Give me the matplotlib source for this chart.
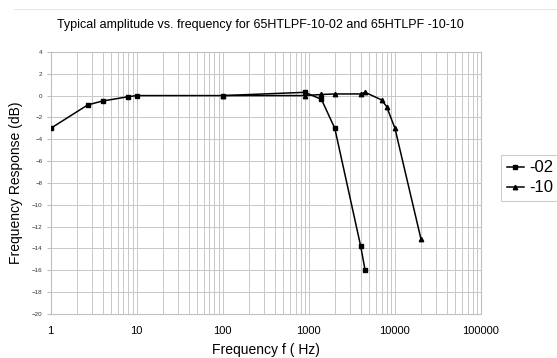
import matplotlib
matplotlib.use("Agg")
import matplotlib.pyplot as plt
from matplotlib.ticker import LogLocator, FixedLocator, FuncFormatter

freq_02 = [1, 2.7, 4, 8, 10, 100, 900, 1400, 2000, 4000, 4500]
resp_02 = [-3.0, -0.85, -0.5, -0.1, 0.0, 0.0, 0.3, -0.35, -3.0, -13.8, -16.0]

freq_10 = [100, 900, 1400, 2000, 4000, 4500, 7000, 8000, 10000, 20000]
resp_10 = [0.0, 0.0, 0.1, 0.15, 0.15, 0.3, -0.4, -1.0, -3.0, -13.1]

x_ticks = [1, 10, 100, 1000, 10000, 100000]
y_ticks = list(range(-20, 5, 2))

plt.rcParams['font.family'] = ['Liberation Sans', 'DejaVu Sans']

fig = plt.figure(figsize=(5.57, 3.58), dpi=100)
ax = fig.add_axes([0.091, 0.123, 0.7726, 0.732])

ax.plot(freq_10, resp_10, color='black', lw=1.1, marker='^', ms=3.2, label='-10', zorder=3)
ax.plot(freq_02, resp_02, color='black', lw=1.1, marker='s', ms=3.5, label='-02', zorder=4)

ax.set_xscale('log')
ax.set_xlim(1, 100000)
ax.set_ylim(-20, 4)
ax.xaxis.set_major_locator(FixedLocator(x_ticks))
ax.xaxis.set_minor_locator(LogLocator(base=10, subs=range(2, 10)))
ax.xaxis.set_major_formatter(FuncFormatter(lambda v, p: f"{int(round(v))}"))
ax.xaxis.set_minor_formatter(FuncFormatter(lambda v, p: ""))
ax.yaxis.set_major_locator(FixedLocator(y_ticks))

ax.grid(True, which='major', color='#c8c8c8', lw=0.7)
ax.grid(True, which='minor', axis='x', color='#c8c8c8', lw=0.7)
ax.set_axisbelow(True)
for s in ax.spines.values():
    s.set_color('#c0c0c0')
    s.set_linewidth(0.8)

ax.tick_params(axis='y', labelsize=4.5, length=3, color='#c0c0c0', pad=3, labelcolor='#333333')
ax.tick_params(axis='x', labelsize=8, length=0, pad=9)
ax.tick_params(which='minor', length=0)

ax.set_xlabel('Frequency f ( Hz)', fontsize=10, labelpad=5)
ax.set_ylabel('Frequency Response (dB)', fontsize=10, labelpad=6)
fig.text(0.468, 0.93, 'Typical amplitude vs. frequency for 65HTLPF-10-02 and 65HTLPF -10-10',
         ha='center', va='center', fontsize=9)

h, l = ax.get_legend_handles_labels()
leg = fig.legend(h[::-1], l[::-1], loc='center left', bbox_to_anchor=(0.9, 0.503),
                 fontsize=12, handlelength=1.0, handletextpad=0.3, borderpad=0.35,
                 labelspacing=0.3, frameon=True, fancybox=False, borderaxespad=0)
leg.get_frame().set_edgecolor('#c0c0c0')
leg.get_frame().set_linewidth(0.8)

fig.add_artist(plt.Line2D([0.025, 1.0], [0.975, 0.975], color='#e0e0e0', lw=0.6))

fig.savefig('out.png', dpi=100)
